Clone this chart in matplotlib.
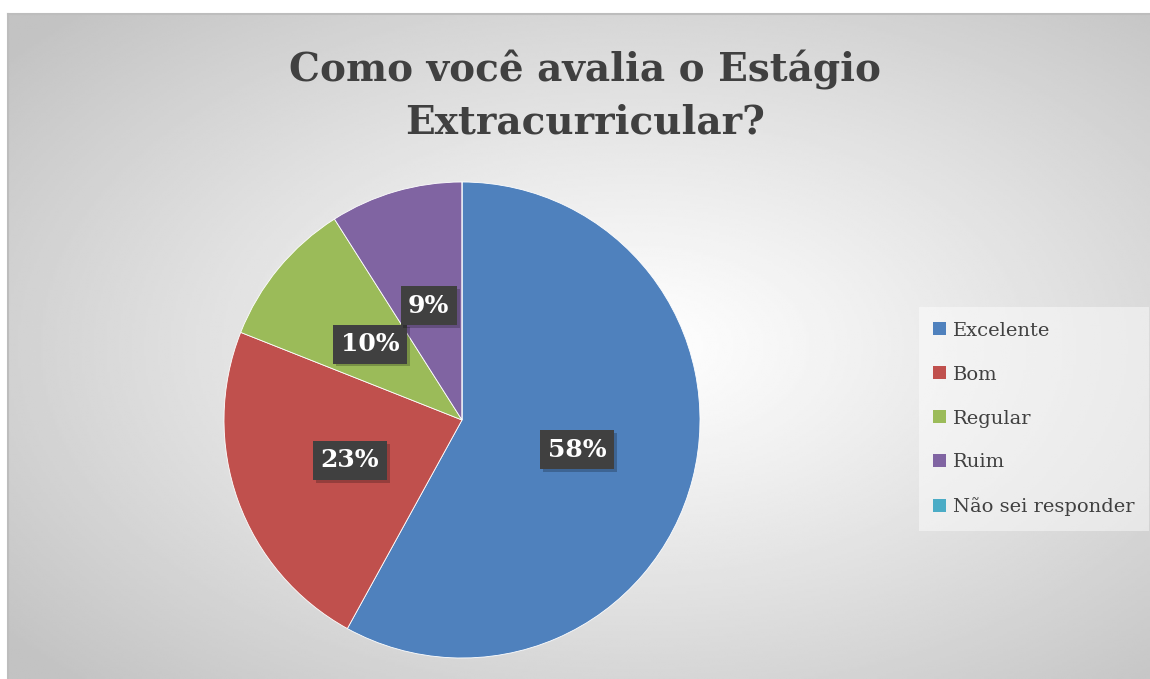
#!/usr/bin/env python3
"""Pie chart: avaliação do Estágio Extracurricular."""

import matplotlib
matplotlib.use("Agg")
import matplotlib.pyplot as plt
import matplotlib.patheffects as pe
from matplotlib.patches import Patch
import numpy as np

categories = ["Excelente", "Bom", "Regular", "Ruim", "Não sei responder"]
values = [58, 23, 10, 9, 0]
colors = ["#4F81BD", "#C0504D", "#9BBB59", "#8064A2", "#4BACC6"]
title = "Como você avalia o Estágio\nExtracurricular?"

W, H = 1150, 679
fig = plt.figure(figsize=(W / 100, H / 100), dpi=100, facecolor="white")

# chart area with radial gradient background
bg = fig.add_axes([8 / W, 0, (W - 8) / W, (H - 14) / H])
ny, nx = 300, 500
yy, xx = np.mgrid[-1:1:ny * 1j, -1:1:nx * 1j]
xx = xx - 0.1
t = np.clip(np.sqrt(xx ** 2 + yy ** 2) / np.sqrt(2), 0, 1) ** 1.1
grey = 1.0 - t * (1.0 - 0.765)
bg.imshow(grey, cmap="gray", vmin=0, vmax=1, aspect="auto",
          extent=[0, 1, 0, 1], interpolation="bilinear")
bg.set_xticks([])
bg.set_yticks([])
for side in ["right", "bottom"]:
    bg.spines[side].set_visible(False)
for side in ["left", "top"]:
    bg.spines[side].set_color("#bdbdbd")
    bg.spines[side].set_linewidth(1.5)

# pie
cx, cy, r = 462, H - 420, 238
ax = fig.add_axes([(cx - r) / W, (cy - r) / H, 2 * r / W, 2 * r / H])
ax.set_facecolor("none")


def fmt(p):
    return f"{p:.0f}%" if p > 0.5 else ""


wedges, texts, autotexts = ax.pie(
    values, colors=colors, startangle=90, counterclock=False,
    autopct=fmt, pctdistance=0.5, radius=1,
    wedgeprops=dict(edgecolor="white", linewidth=0.6),
)
ax.set_xlim(-1, 1)
ax.set_ylim(-1, 1)
ax.set_aspect("equal")

for at in autotexts:
    if not at.get_text():
        continue
    at.set_fontfamily("DejaVu Serif")
    at.set_fontweight("bold")
    at.set_fontsize(18)
    at.set_color("white")
    at.set_bbox(dict(boxstyle="square,pad=0.3", facecolor="#404040",
                     edgecolor="none"))
    at.get_bbox_patch().set_path_effects([
        pe.SimplePatchShadow(offset=(2, -2), shadow_rgbFace="black", alpha=0.22),
        pe.Normal(),
    ])

fig.text(585 / W, 1 - 96 / H, title, ha="center", va="center",
         fontsize=28, fontweight="bold", color="#404040",
         family="DejaVu Serif", linespacing=1.45)

handles = [Patch(facecolor=c, edgecolor="none") for c in colors]
leg = fig.legend(handles, categories, loc="center left",
                 bbox_to_anchor=(909 / W, 1 - 419 / H),
                 prop=dict(family="DejaVu Serif", size=14),
                 frameon=True, fancybox=False, labelspacing=1.33,
                 handlelength=0.65, handleheight=0.65, handletextpad=0.35,
                 borderpad=0.75)
leg.get_frame().set_facecolor("white")
leg.get_frame().set_alpha(0.45)
leg.get_frame().set_edgecolor("none")
for txt in leg.get_texts():
    txt.set_color("#404040")

fig.savefig("out.png", dpi=100, facecolor="white")
